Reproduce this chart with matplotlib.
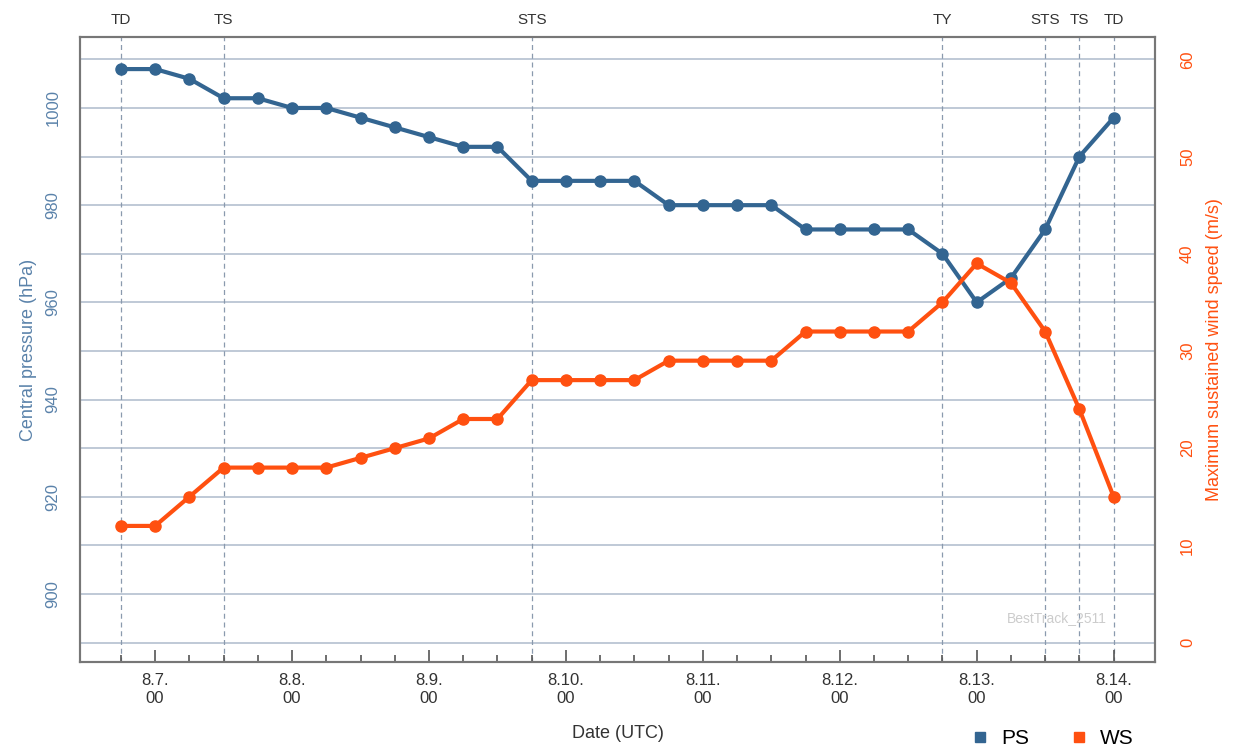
import numpy as np
import pandas as pd
import matplotlib
matplotlib.use("Agg")
import matplotlib.pyplot as plt
import matplotlib.dates as mdates
from matplotlib.lines import Line2D

plt.rcParams['font.family'] = ['Liberation Sans', 'DejaVu Sans']

# 6-hourly best track, 8.6 18UTC .. 8.14 00UTC
times = pd.date_range('2025-08-06 18:00', periods=30, freq='6h')
ps = [1008, 1008, 1006, 1002, 1002, 1000, 1000, 998, 996, 994, 992, 992,
      985, 985, 985, 985, 980, 980, 980, 980, 975, 975, 975, 975,
      970, 960, 965, 975, 990, 998]
ws = [12, 12, 15, 18, 18, 18, 18, 19, 20, 21, 23, 23,
      27, 27, 27, 27, 29, 29, 29, 29, 32, 32, 32, 32,
      35, 39, 37, 32, 24, 15]

# stage changes (index into times)
stage_idx = [0, 3, 12, 24, 27, 28, 29]
stage_lbl = ['TD', 'TS', 'STS', 'TY', 'STS', 'TS', 'TD']

c_ps = '#336591'
c_ws = '#ff5010'
c_grid = '#b4c0cf'

fig = plt.figure(figsize=(12.39, 7.48), dpi=100)
ax = fig.add_axes([80/1239, 1-662/748, (1155-80)/1239, (662-37)/748])
ax2 = ax.twinx()

x0 = pd.Timestamp('2025-08-06 10:50')
x1 = pd.Timestamp('2025-08-14 07:15')
ax.set_xlim(x0, x1)
lo, hi = 886.0, 1014.6
ax.set_ylim(lo, hi)
# right axis: 0 m/s <-> 890 hPa, 2 hPa per m/s
ax2.set_ylim((lo-890)/2, (hi-890)/2)

for v in range(890, 1011, 10):
    ax.axhline(v, color=c_grid, lw=1.2, zorder=0)

for i, lbl in zip(stage_idx, stage_lbl):
    t = times[i]
    ax.axvline(t, color='#8a9aae', lw=0.9, ls=(0, (4, 3)), zorder=1)
    ax.text(t, 1.016, lbl, transform=ax.get_xaxis_transform(), ha='center',
            va='bottom', fontsize=11, color='#333333')

ax.plot(times, ps, color=c_ps, lw=3, marker='o', ms=8, zorder=3)
ax2.plot(times, ws, color=c_ws, lw=3, marker='o', ms=8, zorder=3)

ax.set_yticks(range(900, 1001, 20))
ax.tick_params(axis='y', length=0, colors='#5a82aa', labelsize=12, pad=14)
for t in ax.get_yticklabels():
    t.set_rotation(90)
    t.set_va('center')
ax2.set_yticks(range(0, 61, 10))
ax2.tick_params(axis='y', length=0, colors=c_ws, labelsize=12, pad=18)
for t in ax2.get_yticklabels():
    t.set_rotation(90)
    t.set_va('center')

ax.xaxis.set_major_locator(mdates.DayLocator())
ax.xaxis.set_minor_locator(plt.FixedLocator(mdates.date2num(times)))
ax.xaxis.set_major_formatter(plt.FuncFormatter(
    lambda v, p: '%d.%d.\n00' % (mdates.num2date(v).month, mdates.num2date(v).day)))
ax.tick_params(axis='x', which='major', direction='in', length=9, width=1.2,
               color='#555555', labelsize=12, labelcolor='#333333', pad=8)
ax.tick_params(axis='x', which='minor', direction='in', length=5, width=1.2,
               color='#555555')
ax2.tick_params(axis='x', which='both', length=0)

for a in (ax, ax2):
    for s in a.spines.values():
        s.set_color('#777777')
        s.set_linewidth(1.5)

ax.set_ylabel('Central pressure (hPa)', color='#5a82aa', fontsize=13, labelpad=6)
ax2.set_ylabel('Maximum sustained wind speed (m/s)', color=c_ws, fontsize=13, labelpad=8)
ax.set_xlabel('Date (UTC)', fontsize=13, color='#333333', labelpad=14)

ax.text(0.955, 0.07, 'BestTrack_2511', transform=ax.transAxes, ha='right',
        va='center', fontsize=10, color='#cccccc')

handles = [Line2D([], [], ls='', marker='s', ms=7, color=c_ps),
           Line2D([], [], ls='', marker='s', ms=7, color=c_ws)]
fig.legend(handles, ['PS', 'WS'], loc='lower right', bbox_to_anchor=(0.93, -0.025),
           ncol=2, frameon=False, fontsize=15, handletextpad=0.6, columnspacing=2.0,
           handlelength=0.8)

fig.savefig('out.png', dpi=100)
